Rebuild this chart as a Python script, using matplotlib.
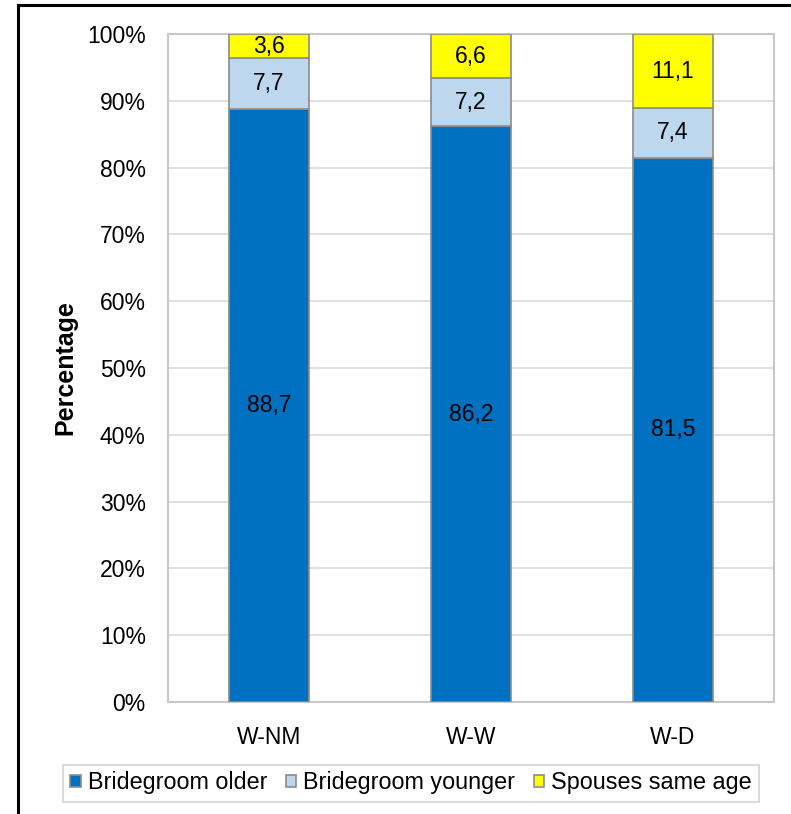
#!/usr/bin/env python
"""
	Stacked percentage bars of spouse age difference by marriage type.
"""

import numpy as np
import matplotlib
matplotlib.use('Agg')
import matplotlib.pyplot as plt
from matplotlib.lines import Line2D

plt.rcParams['font.family'] = ['Liberation Sans', 'DejaVu Sans']

# Data
categories = ['W-NM', 'W-W', 'W-D']
older = [88.7, 86.2, 81.5]
younger = [7.7, 7.2, 7.4]
same_age = [3.6, 6.6, 11.1]
series_names = ['Bridegroom older', 'Bridegroom younger', 'Spouses same age']
labels_older = ['88,7', '86,2', '81,5']
labels_younger = ['7,7', '7,2', '7,4']
labels_same = ['3,6', '6,6', '11,1']

colors = ['#0070C0', '#BDD7EE', '#FFFF00']

fig = plt.figure(figsize=(7.91, 8.14), dpi=100)
ax = fig.add_axes([168/791, 1-702/814, (774-168)/791, (702-34)/814])

x = np.arange(len(categories))
width = 0.4
bottom = np.zeros(len(categories))
series = [older, younger, same_age]
texts = [labels_older, labels_younger, labels_same]
for vals, lbls, col, name in zip(series, texts, colors, series_names):
	vals = np.array(vals)
	ax.bar(x, vals, width, bottom=bottom, color=col, edgecolor='#8c8c8c',
	       linewidth=1.2, label=name, zorder=3)
	for xi, b, v, t in zip(x, bottom, vals, lbls):
		ax.text(xi, b + v/2, t, ha='center', va='center', fontsize=16.5, zorder=4)
	bottom = bottom + vals

# Axes formatting
ax.set_xlim(-0.5, 2.5)
ax.set_ylim(0, 100)
ax.set_yticks(np.arange(0, 101, 10))
ax.set_yticklabels(['%d%%' % v for v in range(0, 101, 10)], fontsize=16.5)
ax.set_xticks(x)
ax.set_xticklabels(categories, fontsize=16.5)
ax.tick_params(axis='y', length=0, pad=16)
ax.tick_params(axis='x', length=0, pad=17)
ax.grid(axis='y', color='#d9d9d9', linewidth=1.2, zorder=0)
for sp in ax.spines.values():
	sp.set_color('#c8c8c8')
	sp.set_linewidth(1.5)
ax.set_ylabel('Percentage', fontsize=18, fontweight='bold', labelpad=7)

# Legend
leg = fig.legend(loc='center', bbox_to_anchor=(411/791, 1-783/814), ncol=3,
                 fontsize=16.8, frameon=True, fancybox=False, edgecolor='#c8c8c8',
                 handlelength=0.45, handleheight=0.45, handletextpad=0.3,
                 columnspacing=0.8, borderpad=0.3, borderaxespad=0)
leg.get_frame().set_linewidth(1.2)

# Outer frame (top and left visible)
fig.add_artist(Line2D([18/791, 18/791], [0, 1-5/814], color='black', linewidth=2.2,
                      transform=fig.transFigure))
fig.add_artist(Line2D([18/791, 1], [1-5/814, 1-5/814], color='black', linewidth=2.2,
                      transform=fig.transFigure))

fig.savefig('out.png', dpi=100)
plt.close('all')
